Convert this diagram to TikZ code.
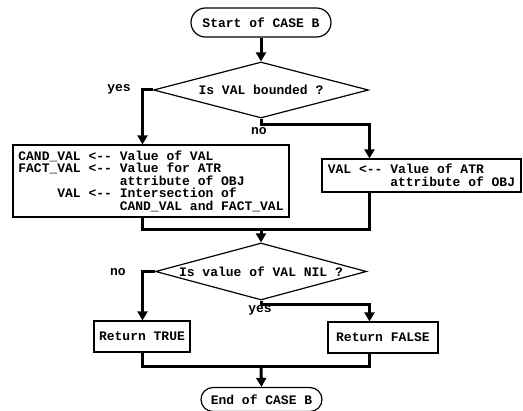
\documentclass[tikz,border=0pt]{standalone}
\usepackage{fontspec}
\setmainfont{Liberation Mono}
\usetikzlibrary{shapes.geometric,shapes.misc,arrows.meta}
\begin{document}
\begin{tikzpicture}[x=1pt,y=-1pt,
  font=\fontsize{13}{12.5}\selectfont\bfseries,
  box/.style={draw, line width=1.2pt, inner sep=0pt},
  term/.style={rounded rectangle, draw, line width=1.2pt, inner sep=0pt},
  dec/.style={diamond, draw, line width=1.2pt, inner sep=0pt, aspect=3.8},
  conn/.style={line width=3pt},
  arr/.style={conn, -{Triangle[length=9pt,width=10pt]}},
  lbl/.style={inner sep=0pt}]
\fill[white] (0,0) rectangle (523,411);
\useasboundingbox (0,0) rectangle (523,411);

\node[term, minimum width=140pt, minimum height=29pt] (start) at (261,22.5) {Start of CASE B};
\node[dec, minimum width=215pt, minimum height=56pt] (d1) at (261,90) {Is VAL bounded ?};
\node[box, minimum width=276pt, minimum height=72pt, align=left] (lbox) at (151,181) {%
CAND\_VAL <-{}- Value of VAL\\
FACT\_VAL <-{}- Value for ATR\\
\hphantom{CAND\_VAL <-{}- }attribute of OBJ\\
\hphantom{CAND\_}VAL <-{}- Intersection of\\
\hphantom{CAND\_VAL <-{}- }CAND\_VAL and FACT\_VAL};
\node[box, minimum width=199pt, minimum height=33pt, align=left] (rbox) at (421.5,175.5) {%
VAL <-{}- Value of ATR\\
\hphantom{VAL <-{}- }attribute of OBJ};
\node[dec, minimum width=211pt, minimum height=57pt] (d2) at (261,271.5) {Is value of VAL NIL ?};
\node[box, minimum width=96pt, minimum height=31pt] (tbox) at (142,336.5) {Return TRUE};
\node[box, minimum width=110pt, minimum height=31pt] (fbox) at (383,337.5) {Return FALSE};
\node[term, minimum width=121pt, minimum height=24pt] (end) at (261.5,399.5) {End of CASE B};

\node[lbl] (yes1) at (119,89) {yes};
\node[lbl] (no1) at (259,131) {no};
\node[lbl] (no2) at (118,272) {no};
\node[lbl] (yes2) at (260,310) {yes};

\coordinate (xl) at (142.5,0);
\coordinate (xr) at (369.5,0);
\coordinate (n1) at (261,125);
\coordinate (m1) at (261,230);
\coordinate (n2) at (261,305);
\coordinate (m2) at (261,367);

\draw[arr] (start.south) -- (d1.north);
\draw[arr] (d1.west) -| (lbox.north -| xl);
\draw[arr] (d1.south) -- (n1) -| (rbox.north -| xr);
\draw[conn] (lbox.south -| xl) |- (m1) -| (rbox.south -| xr);
\draw[arr] (m1) -- (d2.north);
\draw[arr] (d2.west) -| (tbox.north -| xl);
\draw[arr] (d2.south) -- (n2) -| (fbox.north -| xr);
\draw[conn] (tbox.south -| xl) |- (m2) -| (fbox.south -| xr);
\draw[arr] (m2) -- (end.north);
\end{tikzpicture}
\end{document}
